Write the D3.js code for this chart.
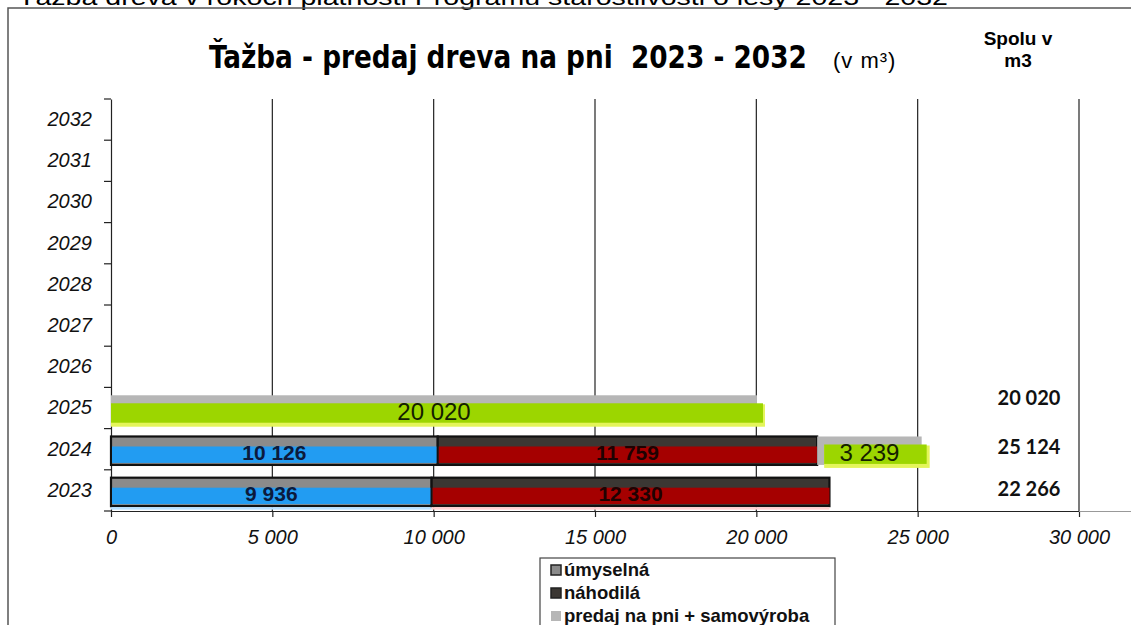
<!DOCTYPE html>
<html>
<head>
<meta charset="utf-8">
<script src="https://cdn.jsdelivr.net/npm/d3@7"></script>
<style>
  html, body { margin: 0; padding: 0; background: #fff; }
  svg { display: block; font-family: "Liberation Sans", Arial, sans-serif; }
</style>
</head>
<body>
<div id="chart"></div>
<script>
// hodnoty odčítané z grafu (m3)
const years = ["2023", "2024", "2025", "2026", "2027", "2028", "2029", "2030", "2031", "2032"];
const umyselna = [9936, 10126, 0, 0, 0, 0, 0, 0, 0, 0];
const nahodila = [12330, 11759, 0, 0, 0, 0, 0, 0, 0, 0];
const predaj   = [0, 3239, 20020, 0, 0, 0, 0, 0, 0, 0];
const seriesNames = ["úmyselná", "náhodilá", "predaj na pni + samovýroba"];
const xTicks = [0, 5000, 10000, 15000, 20000, 25000, 30000];

const width = 1131, height = 625;

// tabuľka pre d3.stack
const table = years.map((y, i) => ({
  year: y,
  "úmyselná": umyselna[i],
  "náhodilá": nahodila[i],
  "predaj na pni + samovýroba": predaj[i]
}));

// vzhľad: sivá výplň z Excelu + farebný "zvýrazňovač" cez spodok stĺpca
const look = {
  "úmyselná": { fill: "#8b8b8b", stroke: "#111", hl: "#229cf2", text: "#0c1a3c", bold: true, size: 21 },
  "náhodilá": { fill: "#3b3733", stroke: "#111", hl: "#a50000", text: "#1e0202", bold: true, size: 21 },
  "predaj na pni + samovýroba": { fill: "#b6b6b6", stroke: "none", hl: "#9cd600", text: "#142000", bold: false, size: 24 }
};

const fmt = d3.formatLocale({ decimal: ",", thousands: " ", grouping: [3], currency: ["", ""] }).format(",d");

const svg = d3.select("#chart").append("svg")
  .attr("width", width).attr("height", height)
  .attr("viewBox", [0, 0, width, height]);

// odrezaný nadpis nad rámom (z naskenovaného dokumentu)
svg.append("text")
  .attr("x", 18).attr("y", 5)
  .attr("font-size", 22)
  .attr("textLength", 930).attr("lengthAdjust", "spacingAndGlyphs")
  .text("Ťažba dreva v rokoch platnosti Programu starostlivosti o lesy 2023 - 2032");

// rám grafu
svg.append("path")
  .attr("d", "M8,640 L8,8 L1140,8")
  .attr("fill", "none").attr("stroke", "#555").attr("stroke-width", 1.5);

// titulok - zúžený na šírku ako v predlohe
const title = svg.append("text")
  .attr("font-family", "'Liberation Sans Narrow', 'DejaVu Sans Condensed', 'Arial Narrow', sans-serif")
  .attr("font-weight", "bold").attr("font-size", 32)
  .attr("xml:space", "preserve")
  .text("Ťažba - predaj dreva na pni  2023 - 2032");
const titleLen = title.node().getComputedTextLength();
title.attr("transform", `translate(209,68) scale(${598 / titleLen},1)`);

svg.append("text")
  .attr("x", 833).attr("y", 68)
  .attr("font-size", 22)
  .attr("letter-spacing", 1)
  .text("(v m³)");

svg.append("text")
  .attr("x", 1018).attr("y", 45).attr("text-anchor", "middle")
  .attr("font-weight", "bold").attr("font-size", 19)
  .text("Spolu v");
svg.append("text")
  .attr("x", 1018).attr("y", 67).attr("text-anchor", "middle")
  .attr("font-weight", "bold").attr("font-size", 19)
  .text("m3");

// mierky
const x = d3.scaleLinear().domain([0, 30000]).range([111, 1079]);
const yCat = d3.scaleBand().domain(years.slice().reverse()).range([99, 511]);
const y = d3.scaleBand().domain(years.slice().reverse()).range([99, 511])
  .paddingInner(0.31).paddingOuter(0.155);

// mriežka
svg.append("g")
  .selectAll("line")
  .data(xTicks.filter(t => t > 0))
  .join("line")
  .attr("x1", d => x(d)).attr("x2", d => x(d))
  .attr("y1", 99).attr("y2", 511)
  .attr("stroke", "#222").attr("stroke-width", 1.2);

// os x
const xAxis = d3.axisBottom(x)
  .tickValues(xTicks)
  .tickFormat(fmt)
  .tickSize(6)
  .tickPadding(13)
  .tickSizeOuter(0);

const gx = svg.append("g")
  .attr("transform", "translate(0,511)")
  .call(xAxis);
gx.select(".domain").attr("stroke", "#222").attr("stroke-width", 1.2);
gx.selectAll(".tick line").attr("stroke", "#222").attr("stroke-width", 1.2);
gx.selectAll(".tick text")
  .attr("font-family", "'Liberation Sans', Arial, sans-serif")
  .attr("font-style", "italic").attr("font-size", 20).attr("fill", "#111");

svg.append("line")
  .attr("x1", 1079).attr("x2", 1131).attr("y1", 511.5).attr("y2", 511.5)
  .attr("stroke", "#999");

// os y (značky na hraniciach kategórií)
const yAxis = d3.axisLeft(yCat).tickSize(0).tickPadding(19);
const gy = svg.append("g")
  .attr("transform", "translate(111,0)")
  .call(yAxis);
gy.select(".domain").attr("stroke", "#222").attr("stroke-width", 1.2);
gy.selectAll(".tick text")
  .attr("font-family", "'Liberation Sans', Arial, sans-serif")
  .attr("font-style", "italic").attr("font-size", 20).attr("fill", "#111");

svg.append("g")
  .selectAll("line")
  .data(years.map(d => yCat(d)).concat([511]))
  .join("line")
  .attr("x1", 104).attr("x2", 111)
  .attr("y1", d => d).attr("y2", d => d)
  .attr("stroke", "#222").attr("stroke-width", 1.2);

// stĺpce
const stack = d3.stack().keys(seriesNames);
const layers = stack(table);
const bw = y.bandwidth();
const shift = 1.5;

const gBars = svg.append("g");

layers.forEach(layer => {
  const st = look[layer.key];
  const pts = layer.filter(d => d[1] > d[0]);
  const isPredaj = layer.key === "predaj na pni + samovýroba";

  // sivý podklad
  gBars.selectAll(`.base-${layer.index}`)
    .data(pts)
    .join("rect")
    .attr("class", `base-${layer.index}`)
    .attr("x", d => x(d[0]))
    .attr("y", d => y(d.data.year) + shift)
    .attr("width", d => x(d[1]) - x(d[0]))
    .attr("height", bw)
    .attr("fill", st.fill)
    .attr("stroke", st.stroke)
    .attr("stroke-width", 2.2);

  if (isPredaj) {
    // bledý okraj zvýrazňovača
    gBars.selectAll(`.fringe-${layer.index}`)
      .data(pts)
      .join("rect")
      .attr("class", `fringe-${layer.index}`)
      .attr("x", d => x(d[0]) + (d[0] > 0 ? 7 : 0))
      .attr("y", d => y(d.data.year) + shift + 9)
      .attr("width", d => x(d[1]) - x(d[0]) + (d[0] > 0 ? 1 : 8))
      .attr("height", bw - 6)
      .attr("fill", "#e4f55a");
  } else {
    // svetlý presah pod stĺpcom
    gBars.selectAll(`.spill-${layer.index}`)
      .data(pts.filter(d => d.data.year === "2023"))
      .join("rect")
      .attr("class", `spill-${layer.index}`)
      .attr("x", d => x(d[0]))
      .attr("y", d => y(d.data.year) + shift + bw + 1)
      .attr("width", d => x(d[1]) - x(d[0]))
      .attr("height", 2.5)
      .attr("fill", layer.key === "úmyselná" ? "#b8e0ff" : "#ffd0d0");
  }

  // farebný zvýrazňovač
  gBars.selectAll(`.hl-${layer.index}`)
    .data(pts)
    .join("rect")
    .attr("class", `hl-${layer.index}`)
    .attr("x", d => isPredaj ? x(d[0]) + (d[0] > 0 ? 7 : 0) : x(d[0]) + 1)
    .attr("y", d => y(d.data.year) + shift + (isPredaj ? 8 : 10))
    .attr("width", d => isPredaj ? x(d[1]) - x(d[0]) + (d[0] > 0 ? -2 : 6) : x(d[1]) - x(d[0]) - 1)
    .attr("height", isPredaj ? bw - 9 : bw - 12)
    .attr("fill", st.hl);
});

// hodnoty v stĺpcoch
layers.forEach(layer => {
  const st = look[layer.key];
  svg.append("g")
    .selectAll("text")
    .data(layer.filter(d => d[1] > d[0]))
    .join("text")
    .attr("x", d => (x(d[0]) + x(d[1])) / 2)
    .attr("y", d => y(d.data.year) + shift + bw / 2 + 2)
    .attr("dy", "0.35em")
    .attr("text-anchor", "middle")
    .attr("font-size", st.size)
    .attr("font-weight", st.bold ? "bold" : "normal")
    .attr("fill", st.text)
    .text(d => fmt(d[1] - d[0]));
});

// stĺpec "Spolu v m3"
const totals = table.map(d => ({ year: d.year, sum: d3.sum(seriesNames, k => d[k]) }))
  .filter(d => d.sum > 0);
svg.append("g")
  .selectAll("text")
  .data(totals)
  .join("text")
  .attr("x", 1029)
  .attr("y", d => y(d.year) + shift + bw / 2 - (d.year === "2025" ? 12 : d.year === "2024" ? 4 : 3))
  .attr("dy", "0.35em")
  .attr("text-anchor", "middle")
  .attr("font-family", "Lato, 'Open Sans', sans-serif")
  .attr("font-weight", "bold").attr("font-size", 20)
  .attr("fill", "#111")
  .text(d => fmt(d.sum));

// legenda
const legend = svg.append("g").attr("transform", "translate(540,558)");
legend.append("rect")
  .attr("width", 295).attr("height", 90)
  .attr("fill", "#fff").attr("stroke", "#444").attr("stroke-width", 1.2);

const legItems = legend.selectAll(".item")
  .data(seriesNames)
  .join("g")
  .attr("class", "item")
  .attr("transform", (d, i) => `translate(0,${12 + i * 23})`);

legItems.append("rect")
  .attr("x", 11).attr("y", -5)
  .attr("width", 10).attr("height", 10)
  .attr("fill", d => look[d].fill)
  .attr("stroke", d => look[d].stroke === "none" ? "none" : "#222")
  .attr("stroke-width", 1.5);

legItems.append("text")
  .attr("x", 24).attr("dy", "0.35em")
  .attr("font-weight", "bold").attr("font-size", 18.5)
  .attr("fill", "#111")
  .text(d => d);
</script>
</body>
</html>
